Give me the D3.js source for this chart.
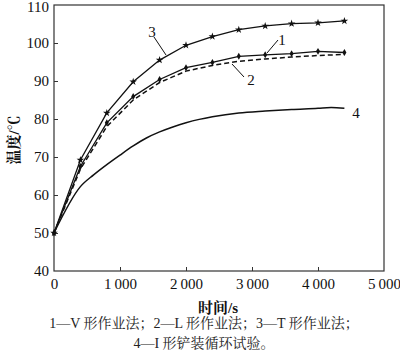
<!DOCTYPE html>
<html><head><meta charset="utf-8">
<script src="https://cdn.jsdelivr.net/npm/d3@7"></script>
<style>body{margin:0;background:#fff}svg{display:block}</style>
</head><body>
<script>
const xTicks = [0,1000,2000,3000,4000,5000];
const xTickLabels = ["0","1\u2009000","2\u2009000","3\u2009000","4\u2009000","5\u2009000"];
const yTicks = [40,50,60,70,80,90,100,110];
const times = [0,400,800,1200,1600,2000,2400,2800,3200,3600,4000,4400];
const s1 = [50,67.5,79,85.9,90.4,93.5,94.9,96.5,96.9,97.2,97.8,97.5];
const s2 = [50,66.8,78,85,89.6,92.6,94.1,95.2,95.8,96.3,96.7,97.0];
const s3 = [50,69.2,81.6,89.8,95.5,99.4,101.7,103.5,104.5,105.1,105.3,105.8];
const t4 = [0,400,600,800,1000,1200,1400,1600,1800,2000,2200,2400,2800,3200,3600,4000,4200,4400];
const s4 = [50,62.2,65.3,68,70.5,72.9,75,76.6,77.9,79.0,79.9,80.6,81.6,82.1,82.5,82.8,83.0,82.8];
const xLabel = "时间/s";
const yLabel = "温度/℃";
const caption1 = "1—V 形作业法；2—L 形作业法；3—T 形作业法；";
const caption2 = "4—I 形铲装循环试验。";

const W=400,H=362;
const m={l:54,r:16,t:5,b:91};
const svg=d3.select("body").append("svg").attr("width",W).attr("height",H);
const x=d3.scaleLinear().domain([0,5000]).range([m.l,W-m.r]);
const y=d3.scaleLinear().domain([40,110]).range([H-m.b,m.t]);
const serif="'Liberation Serif','Times New Roman',serif";
const cjk="'Liberation Serif','Noto Serif CJK SC','Noto Sans CJK SC',serif";

svg.append("rect").attr("x",x(0)).attr("y",y(110)).attr("width",x(5000)-x(0)).attr("height",y(40)-y(110))
  .attr("fill","none").attr("stroke","#333").attr("stroke-width",1.2);

const xa=svg.append("g").attr("transform",`translate(0,${y(40)})`)
  .call(d3.axisBottom(x).tickValues(xTicks).tickSize(-4).tickPadding(7).tickFormat((d,i)=>xTickLabels[i]));
const ya=svg.append("g").attr("transform",`translate(${x(0)},0)`)
  .call(d3.axisLeft(y).tickValues(yTicks).tickSize(-4).tickPadding(5));
[xa,ya].forEach(a=>{a.select(".domain").remove();a.selectAll("line").attr("stroke","#333");
  a.selectAll("text").attr("font-family",serif).attr("font-size",15).attr("fill","#111");});
xa.selectAll(".tick").filter(d=>d===0||d===5000).select("line").remove();
ya.selectAll(".tick").filter(d=>d===40||d===110).select("line").remove();
ya.selectAll(".tick").filter(d=>d===110).select("text").attr("dy","0.45em");

const line=d3.line().x(d=>x(d[0])).y(d=>y(d[1]));
const smooth=d3.line().x(d=>x(d[0])).y(d=>y(d[1])).curve(d3.curveMonotoneX);
const d1=times.map((t,i)=>[t,s1[i]]), d2=times.map((t,i)=>[t,s2[i]]), d3s=times.map((t,i)=>[t,s3[i]]);
const d4=t4.map((t,i)=>[t,s4[i]]);
svg.append("path").datum(d2).attr("d",line).attr("fill","none").attr("stroke","#111").attr("stroke-width",1.5).attr("stroke-dasharray","5,3");
svg.append("path").datum(d1).attr("d",line).attr("fill","none").attr("stroke","#111").attr("stroke-width",1.3);
svg.append("path").datum(d3s).attr("d",line).attr("fill","none").attr("stroke","#111").attr("stroke-width",1.3);
svg.append("path").datum(d4).attr("d",smooth).attr("fill","none").attr("stroke","#111").attr("stroke-width",1.5);

svg.selectAll(".m3").data(d3s).enter().append("path")
  .attr("d",d3.symbol(d3.symbolStar,18)).attr("transform",d=>`translate(${x(d[0])},${y(d[1])})`).attr("fill","#111");
svg.selectAll(".m1").data(d1).enter().append("path")
  .attr("d",d3.symbol(d3.symbolDiamond,14)).attr("transform",d=>`translate(${x(d[0])},${y(d[1])})`).attr("fill","#111");

const lab=(tx,ty,t,lx1,ly1,lx2,ly2)=>{
  svg.append("text").attr("x",tx).attr("y",ty).attr("text-anchor","middle").attr("dominant-baseline","central")
    .attr("font-family",serif).attr("font-size",15).attr("fill","#111").text(t);
  if(lx1!=null) svg.append("line").attr("x1",lx1).attr("y1",ly1).attr("x2",lx2).attr("y2",ly2).attr("stroke","#111").attr("stroke-width",1);
};
lab(152,32,"3",154,37,166,55);
lab(282,40,"1",278,40,267,53);
lab(251,80,"2",244,77,232,64);
lab(356,113,"4");

svg.append("text").attr("x",218).attr("y",308).attr("text-anchor","middle").attr("dominant-baseline","central")
  .attr("font-family",cjk).attr("font-size",15).attr("font-weight","bold").attr("fill","#111").text(xLabel);
svg.append("text").attr("transform","translate(14,140) rotate(-90)").attr("text-anchor","middle").attr("dominant-baseline","central")
  .attr("font-family",cjk).attr("font-size",15).attr("font-weight","bold").attr("fill","#111").text(yLabel);
svg.append("text").attr("x",204).attr("y",323).attr("text-anchor","middle").attr("dominant-baseline","central")
  .attr("font-family",cjk).attr("font-size",14).attr("fill","#222").text(caption1);
svg.append("text").attr("x",204).attr("y",343).attr("text-anchor","middle").attr("dominant-baseline","central")
  .attr("font-family",cjk).attr("font-size",14).attr("fill","#222").text(caption2);
</script>
</body></html>
